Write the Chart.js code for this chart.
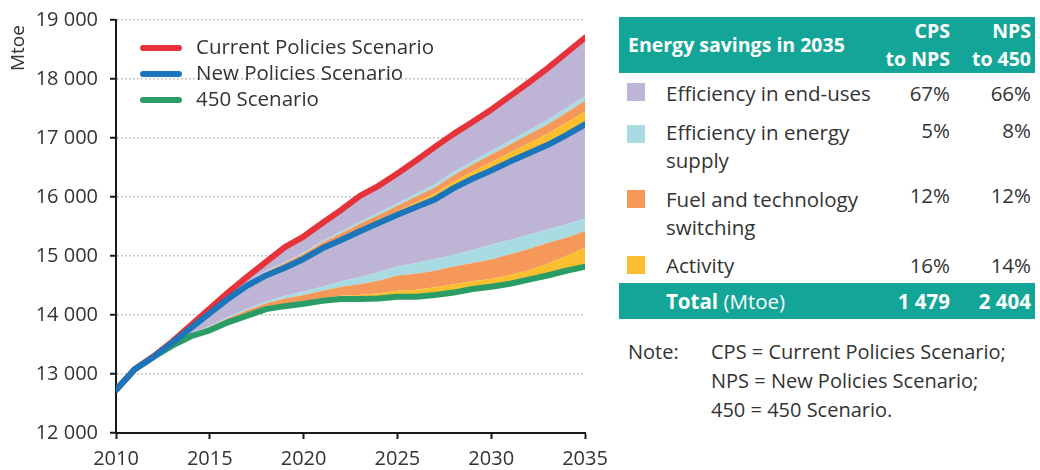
<!DOCTYPE html>
<html>
<head>
<meta charset="utf-8">
<script src="https://cdn.jsdelivr.net/npm/chart.js@4.4.0/dist/chart.umd.min.js"></script>
<style>
html,body{margin:0;padding:0;background:#fff;}
body{width:1040px;height:470px;position:relative;overflow:hidden;font-family:"Open Sans",sans-serif;color:#333;}
#chartBox{position:absolute;left:0;top:0;width:610px;height:470px;}
#ytitle{position:absolute;left:5px;top:71px;transform:rotate(-90deg);transform-origin:left top;font-size:19px;line-height:24px;white-space:nowrap;}
#legend{position:absolute;left:140px;top:33px;}
.lg{height:26px;display:flex;align-items:center;font-size:20.5px;line-height:26px;white-space:nowrap;}
.lg i{display:inline-block;width:42px;height:6px;border-radius:3px;margin-right:14px;margin-top:3px;}
#tbl{position:absolute;left:619px;top:17px;width:416px;border-collapse:collapse;table-layout:fixed;font-size:20.5px;}
#tbl td{padding:0;vertical-align:middle;white-space:nowrap;}
#tbl tr.hd td{background:#13A597;color:#fff;font-weight:bold;font-size:19.5px;line-height:28px;}
#tbl tr.tot td{background:#13A597;color:#fff;font-size:20.5px;}
.num{text-align:right;}
.sw{display:block;width:18px;height:18px;margin-left:8px;}
#note{position:absolute;left:628px;top:337px;font-size:20px;line-height:29px;}
#note .k{position:absolute;left:0;top:0;}
#note .v{position:absolute;left:83px;top:0;white-space:nowrap;}
</style>
</head>
<body>
<div id="chartBox"><canvas id="c" width="610" height="470"></canvas></div>
<div id="ytitle"></div>
<div id="legend"></div>
<table id="tbl"></table>
<div id="note"></div>
<script>
// ---------- data ----------
const years = [2010,2011,2012,2013,2014,2015,2016,2017,2018,2019,2020,2021,2022,2023,2024,2025,2026,2027,2028,2029,2030,2031,2032,2033,2034,2035];
const cps   = [12730,13080,13300,13550,13830,14110,14390,14650,14900,15150,15330,15560,15780,16020,16190,16400,16620,16850,17070,17270,17480,17710,17940,18180,18440,18700];
const nps   = [12730,13080,13290,13530,13780,14030,14280,14500,14670,14800,14950,15130,15270,15420,15560,15700,15830,15960,16150,16310,16450,16600,16740,16880,17050,17230];
const s450  = [12730,13080,13290,13480,13640,13740,13880,13990,14100,14150,14190,14240,14270,14270,14280,14310,14310,14340,14380,14440,14480,14530,14600,14670,14750,14820];
// top edges of the savings wedges between 450 and NPS
const lowActivityTop = [12730,13080,13290,13490,13650,13760,13900,14015,14130,14190,14235,14285,14325,14340,14370,14410,14430,14470,14520,14570,14610,14680,14760,14870,15000,15140];
const lowFuelTop     = [12730,13080,13290,13500,13670,13800,13950,14080,14200,14280,14340,14410,14480,14520,14580,14670,14700,14750,14820,14880,14940,15030,15120,15220,15310,15420];
const lowSupplyTop   = [12730,13080,13290,13505,13680,13815,13970,14105,14230,14320,14400,14480,14570,14640,14730,14820,14880,14950,15020,15100,15190,15270,15360,15450,15540,15630];
// top edges of the savings wedges between NPS and CPS
const upActivityTop  = [12730,13080,13290,13532,13785,14035,14290,14510,14685,14820,14975,15160,15305,15460,15605,15755,15910,16060,16260,16430,16590,16750,16910,17070,17260,17450];
const upFuelTop      = [12730,13080,13295,13540,13800,14055,14315,14545,14730,14880,15040,15230,15385,15545,15695,15850,16010,16160,16370,16550,16720,16890,17060,17230,17430,17630];
const upSupplyTop    = [12730,13080,13295,13542,13805,14060,14320,14555,14745,14895,15060,15255,15415,15580,15735,15895,16060,16210,16430,16605,16780,16955,17130,17305,17510,17710];

const seriesNames = ['Current Policies Scenario','New Policies Scenario','450 Scenario'];
const yTicks = [12000,13000,14000,15000,16000,17000,18000,19000];
const xTicks = [2010,2015,2020,2025,2030,2035];
const yTitle = 'Mtoe';

const tableTitle = 'Energy savings in 2035';
const colHeads = [['CPS','to NPS'],['NPS','to 450']];
const measures = [['Efficiency in end-uses'],['Efficiency in energy','supply'],['Fuel and technology','switching'],['Activity']];
const cpsToNps = ['67%','5%','12%','16%'];
const npsTo450 = ['66%','8%','12%','14%'];
const totalLabel = ['Total',' (Mtoe)'];
const totals = ['1 479','2 404'];
const noteKey = 'Note:';
const noteLines = ['CPS = Current Policies Scenario;','NPS = New Policies Scenario;','450 = 450 Scenario.'];

// ---------- styles ----------
const COL = {red:'#E8323A', blue:'#1B75BB', green:'#2A9D66', purple:'#BEB4D5', lblue:'#A8DCE2', orange:'#F6985A', yellow:'#FBBE2E'};
const wedgeColors = [COL.purple, COL.lblue, COL.orange, COL.yellow];
const lineColors = [COL.red, COL.blue, COL.green];

const pts = arr => arr.map((v,i)=>({x:years[i], y:v}));
const fillDs = (label, arr, fill, color) => ({label, data:pts(arr), fill, backgroundColor:color, borderColor:'transparent', borderWidth:0, pointRadius:0, order:0});
const lineDs = (label, arr, color, order) => ({label, data:pts(arr), fill:false, borderColor:color, backgroundColor:color, borderWidth:6, pointRadius:0, order, borderCapStyle:'round', borderJoinStyle:'round'});

const datasets = [
  lineDs(seriesNames[0], cps, COL.red, -2),     // 0
  lineDs(seriesNames[1], nps, COL.blue, -3),    // 1
  lineDs(seriesNames[2], s450, COL.green, -1),  // 2
  fillDs('low activity', lowActivityTop, 2, COL.yellow),
  fillDs('low fuel', lowFuelTop, '-1', COL.orange),
  fillDs('low supply', lowSupplyTop, '-1', COL.lblue),
  fillDs('low end-use', nps, '-1', COL.purple),
  fillDs('up activity', upActivityTop, 1, COL.yellow),
  fillDs('up fuel', upFuelTop, '-1', COL.orange),
  fillDs('up supply', upSupplyTop, '-1', COL.lblue),
  fillDs('up end-use', cps, '-1', COL.purple)
];

const fmt = v => String(v).replace(/\B(?=(\d{3})+(?!\d))/g,' ');
const tickFont = {family:'"Open Sans", sans-serif', size:20};

new Chart(document.getElementById('c'), {
  type:'line',
  data:{datasets},
  options:{
    responsive:false, animation:false,
    layout:{padding:{left:0, right:25, top:20, bottom:0}},
    plugins:{legend:{display:false}, tooltip:{enabled:false}},
    elements:{line:{tension:0}},
    scales:{
      x:{type:'linear', min:years[0], max:years[years.length-1],
         afterBuildTicks: s => { s.ticks = xTicks.map(v=>({value:v})); },
         ticks:{color:'#333', font:tickFont, padding:8, maxRotation:0, callback:v=>String(v)},
         grid:{drawOnChartArea:false, drawTicks:true, tickLength:6, tickColor:'#1a1a1a', tickWidth:2},
         border:{display:true, color:'#1a1a1a', width:2},
         afterFit: s => { s.height = 37; s.paddingLeft = 0; s.paddingRight = 0; }},
      y:{min:yTicks[0], max:yTicks[yTicks.length-1],
         afterBuildTicks: s => { s.ticks = yTicks.map(v=>({value:v})); },
         ticks:{color:'#333', font:tickFont, padding:12, callback:v=>fmt(v)},
         grid:{color:'#b4b4b4', lineWidth:1.5, tickColor:'#1a1a1a', tickWidth:2, tickLength:6, tickBorderDash:[]},
         border:{display:true, color:'#1a1a1a', width:2, dash:[1.5,2.5]},
         afterFit: s => { s.width = 116; s.paddingTop = 0; s.paddingBottom = 0; }}
    }
  }
});

// ---------- text elements ----------
document.getElementById('ytitle').textContent = yTitle;
const lg = document.getElementById('legend');
seriesNames.forEach((n,i)=>{
  const d = document.createElement('div'); d.className='lg';
  const sw = document.createElement('i'); sw.style.background = lineColors[i];
  d.appendChild(sw); d.appendChild(document.createTextNode(n)); lg.appendChild(d);
});

const tbl = document.getElementById('tbl');
let h = '<colgroup><col style="width:45px"><col style="width:216px"><col style="width:74px"><col style="width:81px"></colgroup>';
h += `<tr class="hd" style="height:56px"><td colspan="2" style="padding-left:9px">${tableTitle}</td>` +
     colHeads.map(c=>`<td class="num" style="padding-right:4px">${c[0]}<br>${c[1]}</td>`).join('') + '</tr>';
const rowH = [40,65,69,36];
measures.forEach((m,i)=>{
  const pt = i===0?6:(i===3?4:3);
  h += `<tr style="height:${rowH[i]}px"><td style="vertical-align:top;padding-top:${i===0?10:(i===3?9:12)}px"><span class="sw" style="background:${wedgeColors[i]}"></span></td>` +
       `<td style="line-height:28px;padding-left:2px">${m.join('<br>')}</td>` +
       `<td class="num" style="vertical-align:top;line-height:28px;padding-top:${pt}px;padding-right:4px">${cpsToNps[i]}</td>` +
       `<td class="num" style="vertical-align:top;line-height:28px;padding-top:${pt}px;padding-right:4px">${npsTo450[i]}</td></tr>`;
});
h += `<tr class="tot" style="height:36px"><td></td><td style="padding-left:2px"><b>${totalLabel[0]}</b>${totalLabel[1]}</td>` +
     totals.map(t=>`<td class="num" style="padding-right:4px"><b>${t}</b></td>`).join('') + '</tr>';
tbl.innerHTML = h;

const note = document.getElementById('note');
note.innerHTML = `<div class="k">${noteKey}</div><div class="v">${noteLines.join('<br>')}</div>`;
</script>
</body>
</html>
